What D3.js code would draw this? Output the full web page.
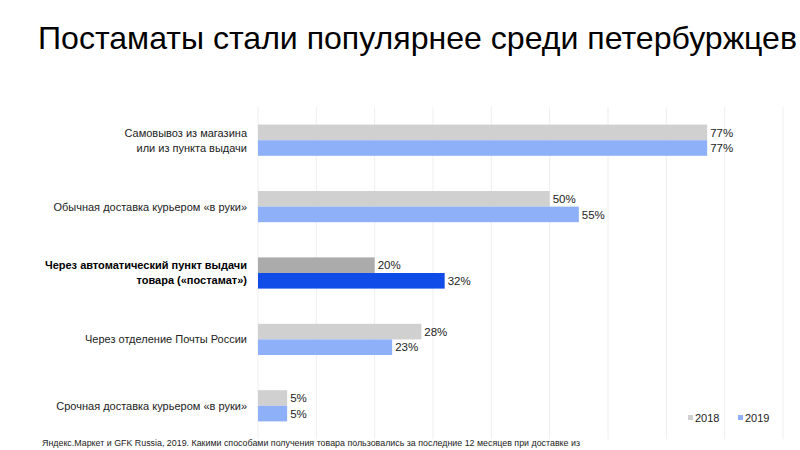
<!DOCTYPE html>
<html><head><meta charset="utf-8">
<script src="https://cdn.jsdelivr.net/npm/d3@7/dist/d3.min.js"></script>
<style>body{margin:0;background:#fff;} svg{display:block;}</style>
</head><body>
<svg id="c" width="800" height="450"></svg>
<script>
const categories = [
  ["Самовывоз из магазина", "или из пункта выдачи"],
  ["Обычная доставка курьером «в руки»"],
  ["Через автоматический пункт выдачи", "товара («постамат»)"],
  ["Через отделение Почты России"],
  ["Срочная доставка курьером «в руки»"]
];
const highlighted = [false, false, true, false, false];
const series = ["2018", "2019"];
const values2018 = [77, 50, 20, 28, 5];
const values2019 = [77, 55, 32, 23, 5];
const xTicks = [0, 10, 20, 30, 40, 50, 60, 70, 80, 90];
const title = "Постаматы стали популярнее среди петербуржцев";
const source = "Яндекс.Маркет и GFK Russia, 2019. Какими способами получения товара пользовались за последние 12 месяцев при доставке из";

const svg = d3.select("#c");
const font = "Liberation Sans, Arial, Helvetica, sans-serif";
const pLeft = 258, pRight = 783, pTop = 107, pBottom = 439;

const x = d3.scaleLinear().domain([0, 90]).range([pLeft, pRight]);
const y = d3.scaleBand().domain(d3.range(categories.length)).range([pTop, pBottom]).paddingInner(0.53).paddingOuter(0.265);
const ySub = d3.scaleBand().domain(series).range([0, y.bandwidth()]);

const colors = {
  normal: {"2018": "#d0d0d0", "2019": "#8eb0f9"},
  hi: {"2018": "#ababab", "2019": "#0f4ce8"}
};

// title
svg.append("text").attr("x", 38).attr("y", 49).attr("font-family", font)
  .attr("font-size", 30.5).attr("fill", "#000").attr("textLength", 759).attr("lengthAdjust", "spacingAndGlyphs").text(title);

// gridlines
svg.append("g").selectAll("line").data(xTicks).join("line")
  .attr("x1", d => x(d)).attr("x2", d => x(d)).attr("y1", pTop).attr("y2", pBottom)
  .attr("stroke", "#eeeeee").attr("stroke-width", 1);

const data = [];
categories.forEach((c, i) => {
  data.push({i, s: "2018", v: values2018[i]});
  data.push({i, s: "2019", v: values2019[i]});
});

const g = svg.append("g");
g.selectAll("rect").data(data).join("rect")
  .attr("x", x(0))
  .attr("y", d => y(d.i) + ySub(d.s))
  .attr("width", d => x(d.v) - x(0))
  .attr("height", ySub.bandwidth())
  .attr("fill", d => (highlighted[d.i] ? colors.hi : colors.normal)[d.s]);

g.selectAll("text.val").data(data).join("text").attr("class", "val")
  .attr("x", d => x(d.v) + 3)
  .attr("y", d => y(d.i) + ySub(d.s) + ySub.bandwidth() / 2)
  .attr("dy", "0.36em")
  .attr("font-family", font).attr("font-size", 11.5).attr("fill", "#222")
  .text(d => d.v + "%");

// category labels
categories.forEach((lines, i) => {
  const cy = y(i) + y.bandwidth() / 2;
  const lh = 15;
  const t = svg.append("text").attr("text-anchor", "end").attr("font-family", font)
    .attr("font-size", 11).attr("fill", highlighted[i] ? "#000" : "#222")
    .attr("font-weight", highlighted[i] ? "bold" : "normal");
  lines.forEach((l, k) => {
    t.append("tspan").attr("x", 247)
      .attr("y", cy + (k - (lines.length - 1) / 2) * lh)
      .attr("dy", "0.36em").text(l);
  });
});

// legend
const legX = [688, 738];
series.forEach((s, k) => {
  svg.append("rect").attr("x", legX[k]).attr("y", 415).attr("width", 5).attr("height", 5)
    .attr("fill", colors.normal[s]);
  svg.append("text").attr("x", legX[k] + 7).attr("y", 422).attr("font-family", font)
    .attr("font-size", 11).attr("fill", "#222").text(s);
});

// source
svg.append("text").attr("x", 42).attr("y", 446).attr("font-family", font)
  .attr("font-size", 8.5).attr("fill", "#222").attr("textLength", 538).attr("lengthAdjust", "spacingAndGlyphs").text(source);
</script>
</body></html>
